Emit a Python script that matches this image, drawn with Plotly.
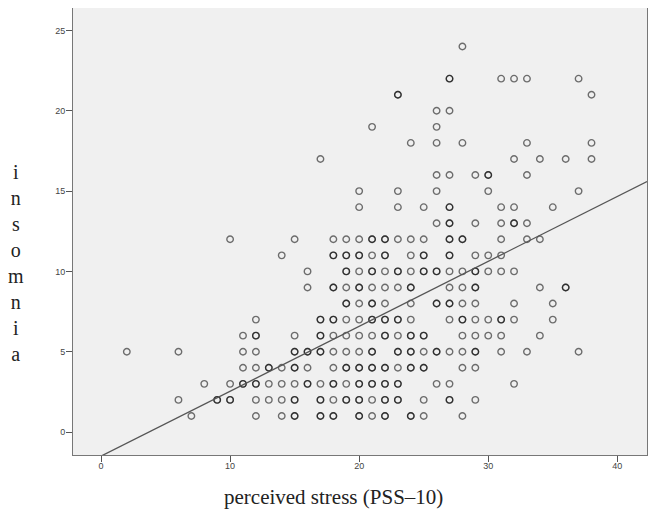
import plotly.graph_objects as go

# perceived stress (x) and insomnia (y), one line per x column
pss = [2,
       6, 6,
       7,
       8,
       9,
       10, 10, 10,
       11, 11, 11, 11,
       12, 12, 12, 12, 12, 12, 12,
       13, 13, 13,
       14, 14, 14, 14, 14,
       15, 15, 15, 15, 15, 15, 15,
       16, 16, 16, 16, 16,
       17, 17, 17, 17, 17, 17, 17,
       18, 18, 18, 18, 18, 18, 18, 18, 18, 18,
       19, 19, 19, 19, 19, 19, 19, 19, 19, 19, 19,
       20, 20, 20, 20, 20, 20, 20, 20, 20, 20, 20, 20, 20, 20,
       21, 21, 21, 21, 21, 21, 21, 21, 21, 21, 21, 21, 21,
       22, 22, 22, 22, 22, 22, 22, 22, 22, 22, 22,
       23, 23, 23, 23, 23, 23, 23, 23, 23, 23, 23, 23,
       24, 24, 24, 24, 24, 24, 24, 24, 24, 24, 24,
       25, 25, 25, 25, 25, 25, 25, 25, 25,
       26, 26, 26, 26, 26, 26, 26, 26, 26, 26,
       27, 27, 27, 27, 27, 27, 27, 27, 27, 27, 27, 27, 27, 27,
       28, 28, 28, 28, 28, 28, 28, 28, 28, 28, 28,
       29, 29, 29, 29, 29, 29, 29, 29, 29, 29, 29,
       30, 30, 30, 30, 30, 30,
       31, 31, 31, 31, 31, 31, 31, 31, 31,
       32, 32, 32, 32, 32, 32, 32, 32,
       33, 33, 33, 33, 33, 33,
       34, 34, 34, 34,
       35, 35, 35,
       36, 36,
       37, 37, 37,
       38, 38, 38]
insomnia = [5,
            5, 2,
            1,
            3,
            2,
            12, 3, 2,
            6, 5, 4, 3,
            7, 6, 5, 4, 3, 2, 1,
            4, 3, 2,
            11, 4, 3, 2, 1,
            12, 6, 5, 4, 3, 2, 1,
            10, 9, 5, 4, 3,
            17, 7, 6, 5, 3, 2, 1,
            12, 11, 9, 7, 6, 5, 4, 3, 2, 1,
            12, 11, 10, 9, 8, 7, 6, 5, 4, 3, 2,
            15, 14, 12, 11, 10, 9, 8, 7, 6, 5, 4, 3, 2, 1,
            19, 12, 11, 10, 9, 8, 7, 6, 5, 4, 3, 2, 1,
            12, 11, 10, 9, 8, 7, 6, 4, 3, 2, 1,
            21, 15, 14, 12, 10, 9, 7, 6, 5, 4, 3, 2,
            18, 12, 11, 10, 9, 8, 7, 6, 5, 4, 1,
            14, 12, 11, 10, 6, 5, 4, 2, 1,
            20, 19, 18, 16, 15, 13, 10, 8, 5, 3,
            22, 20, 16, 14, 13, 12, 11, 10, 9, 8, 7, 5, 3, 2,
            24, 18, 12, 10, 9, 8, 7, 6, 5, 4, 1,
            16, 13, 11, 10, 9, 8, 7, 6, 5, 4, 2,
            16, 15, 11, 10, 7, 6,
            22, 14, 13, 12, 11, 10, 7, 6, 5,
            22, 17, 14, 13, 10, 8, 7, 3,
            22, 18, 16, 13, 12, 5,
            17, 12, 9, 6,
            14, 8, 7,
            17, 9,
            22, 15, 5,
            21, 18, 17]

# cases that sit on top of another one (drawn darker in the original)
dup_pss = [12, 15, 16, 17, 13, 15, 19, 11, 12, 16, 18, 9, 10, 15, 17, 19, 15, 18,
           17, 17, 18, 18, 18, 19, 19, 20, 22, 19, 21, 23, 25, 26, 20, 24, 21, 26,
           27, 21, 22, 23, 22, 24, 25, 21, 23, 24, 26, 29, 20, 21, 22, 24, 25, 20,
           21, 22, 23, 20, 22, 23, 27, 17, 20, 22, 24, 21, 22, 27, 28, 25, 27, 29,
           29, 36, 28, 31, 23, 27, 30, 27, 32, 27]
dup_insomnia = [6, 5, 5, 5, 4, 4, 4, 3, 3, 3, 3, 2, 2, 2, 2, 2, 1, 1,
                6, 7, 7, 9, 11, 8, 11, 11, 11, 10, 10, 10, 10, 10, 9, 9, 8, 8,
                8, 7, 7, 7, 6, 6, 6, 5, 5, 5, 5, 5, 4, 4, 4, 4, 4, 3,
                3, 3, 3, 2, 2, 2, 2, 1, 1, 1, 1, 12, 12, 12, 12, 11, 11, 10,
                9, 9, 7, 7, 21, 22, 16, 13, 13, 14]

# linear fit line as drawn
fit_x = [0, 42.3]
fit_y = [-1.5, 15.6]

x_ticks = [0, 10, 20, 30, 40]
y_ticks = [0, 5, 10, 15, 20, 25]

marker = dict(symbol="circle-open", size=6.5, color="black", opacity=0.55,
              line=dict(width=1.4, color="black"))

fig = go.Figure()
fig.add_trace(go.Scatter(x=pss, y=insomnia, mode="markers", marker=marker,
                         hoverinfo="x+y"))
fig.add_trace(go.Scatter(x=dup_pss, y=dup_insomnia, mode="markers", marker=marker,
                         hoverinfo="skip"))
fig.add_trace(go.Scatter(x=fit_x, y=fit_y, mode="lines",
                         line=dict(color="#555555", width=1.3), hoverinfo="skip"))

tick_font = dict(family="Liberation Sans, Arial", size=9, color="#444444")
fig.update_xaxes(range=[-2.17, 42.3], tickvals=x_ticks, ticks="outside", ticklen=6,
                 tickcolor="#555555", showline=True, linecolor="#777777", linewidth=1,
                 mirror=True, showgrid=False, zeroline=False, tickfont=tick_font,
                 ticklabelstandoff=-4)
fig.update_yaxes(range=[-1.43, 26.4], tickvals=y_ticks, ticks="outside", ticklen=6,
                 tickcolor="#555555", showline=True, linecolor="#777777", linewidth=1,
                 mirror=True, showgrid=False, zeroline=False, tickfont=tick_font,
                 ticklabelstandoff=-1)

serif = dict(family="Liberation Serif, Times New Roman, serif", size=20, color="#222222")
fig.add_annotation(text="<br>".join("insomnia"), xref="paper", yref="paper",
                   x=-0.099, y=0.43, xanchor="center", yanchor="middle",
                   showarrow=False, font=serif)
fig.add_annotation(text="perceived stress (PSS–10)", xref="paper", yref="paper",
                   x=0.453, y=-0.095, xanchor="center", yanchor="middle",
                   showarrow=False, font=dict(serif, size=21))

# page body adds 8px around the figure, so the figure is 16px smaller
fig.update_layout(width=645, height=504, showlegend=False,
                  margin=dict(l=65, r=6, t=0, b=57),
                  plot_bgcolor="#f0f0f0", paper_bgcolor="white")

fig.write_html("out.html")
